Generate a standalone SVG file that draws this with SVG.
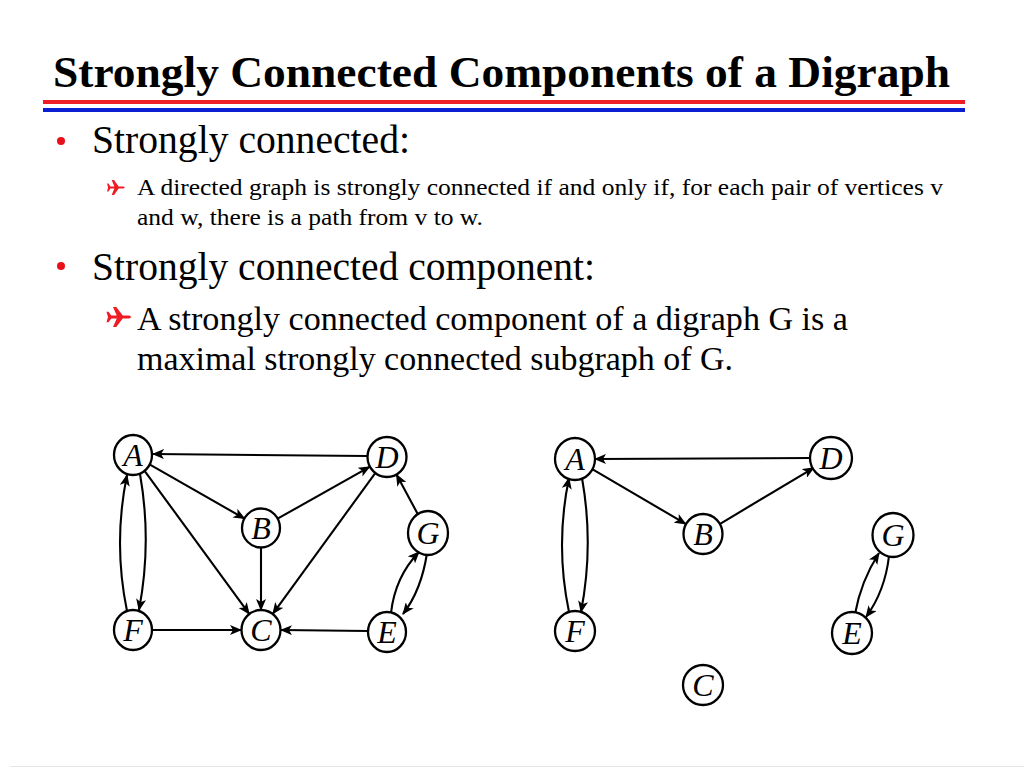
<svg xmlns="http://www.w3.org/2000/svg" width="1024" height="768" viewBox="0 0 1024 768">
<style>
.t{font-family:"Liberation Serif","Times New Roman",serif;fill:#000}
.nd{fill:#fff;stroke:#000;stroke-width:2.3}
.lb{font-family:"Liberation Serif","Times New Roman",serif;font-style:italic;font-size:32px;text-anchor:middle;fill:#000}
.e{fill:none;stroke:#000;stroke-width:2.1;marker-end:url(#ah)}
.dot{fill:#e8101a}
.pl{fill:#ee1c24}
</style>
<defs>
<marker id="ah" viewBox="0 0 12 10" refX="11" refY="5" markerWidth="12" markerHeight="10" markerUnits="userSpaceOnUse" orient="auto">
<path d="M0,0 L12,5 L0,10 L3,5 Z" fill="#000"/>
</marker>
<path id="plane" d="M1,0 L0.82,-0.14 L0.3,-0.14 L-0.22,-0.95 L-0.48,-0.95 L-0.18,-0.14 L-0.62,-0.14 L-0.84,-0.5 L-1,-0.5 L-0.88,0 L-1,0.5 L-0.84,0.5 L-0.62,0.14 L-0.18,0.14 L-0.48,0.95 L-0.22,0.95 L0.3,0.14 L0.82,0.14 Z"/>
</defs>
<rect width="1024" height="768" fill="#fff"/>
<g id="header">
<text class="t" x="53" y="87" font-size="45" font-weight="bold" textLength="897" lengthAdjust="spacingAndGlyphs">Strongly Connected Components of a Digraph</text>
<rect x="43" y="100" width="922" height="4" fill="#ee1c24"/>
<rect x="43" y="108" width="922" height="4" fill="#0a1fd0"/>
</g>
<g id="bullets">
<circle class="dot" cx="61" cy="141" r="4"/>
<text class="t" x="92" y="153" font-size="40" textLength="318" lengthAdjust="spacingAndGlyphs">Strongly connected:</text>
<use href="#plane" class="pl" transform="translate(116,187.5) scale(9,8)"/>
<text class="t" x="137" y="195" font-size="23" textLength="806" lengthAdjust="spacingAndGlyphs">A directed graph is strongly connected if and only if, for each pair of vertices v</text>
<text class="t" x="137" y="225" font-size="23" textLength="346" lengthAdjust="spacingAndGlyphs">and w, there is a path from v to w.</text>
<circle class="dot" cx="61" cy="266" r="4"/>
<text class="t" x="92" y="280" font-size="40" textLength="503" lengthAdjust="spacingAndGlyphs">Strongly connected component:</text>
<use href="#plane" class="pl" transform="translate(119,317) scale(12.5,10.5)"/>
<text class="t" x="137" y="330" font-size="34" textLength="711" lengthAdjust="spacingAndGlyphs">A strongly connected component of a digraph G is a</text>
<text class="t" x="137" y="370" font-size="34" textLength="596" lengthAdjust="spacingAndGlyphs">maximal strongly connected subgraph of G.</text>
</g>
<g id="connectors">
<path class="e" d="M367,456 L153,454"/>
<path class="e" d="M149.5,464.4 L244.5,518.6"/>
<path class="e" d="M144.2,470.3 L249.2,613.9"/>
<path class="e" d="M140,474 Q152,542 139,610"/>
<path class="e" d="M127,611 Q113,543 127,475"/>
<path class="e" d="M277.6,518.7 L369.6,466.8"/>
<path class="e" d="M261,547 L261,610"/>
<path class="e" d="M375.8,472.4 L272.8,613.8"/>
<path class="e" d="M153,630 L241,630"/>
<path class="e" d="M368,631 L281,630"/>
<path class="e" d="M418.5,515.4 L396.5,474.6"/>
<path class="e" d="M391,613 Q395,577 419,552"/>
<path class="e" d="M427,553 Q421.5,590 403,614"/>
<path class="e" d="M811,458 L595,459"/>
<path class="e" d="M591.4,468.6 L685.7,523.9"/>
<path class="e" d="M719.3,524.3 L813.8,467.8"/>
<path class="e" d="M582,478 Q594,545 581,612"/>
<path class="e" d="M569,612 Q555,545 569,478"/>
<path class="e" d="M855,614 Q861,581 879,553"/>
<path class="e" d="M889,556 Q885,591 866,617"/>
</g>
<g id="L-A"><ellipse class="nd" cx="133" cy="455" rx="19" ry="20"/><text class="lb" x="133" y="466">A</text></g>
<g id="L-B"><ellipse class="nd" cx="261" cy="528" rx="19" ry="19.5"/><text class="lb" x="261" y="539">B</text></g>
<g id="L-C"><ellipse class="nd" cx="261" cy="630" rx="19.5" ry="20"/><text class="lb" x="261" y="641">C</text></g>
<g id="L-D"><ellipse class="nd" cx="387" cy="457" rx="19.5" ry="20"/><text class="lb" x="387" y="468">D</text></g>
<g id="L-E"><ellipse class="nd" cx="387" cy="632" rx="19" ry="20"/><text class="lb" x="387" y="643">E</text></g>
<g id="L-F"><ellipse class="nd" cx="133" cy="630" rx="19" ry="20"/><text class="lb" x="133" y="641">F</text></g>
<g id="L-G"><ellipse class="nd" cx="428" cy="533" rx="20" ry="22"/><text class="lb" x="428" y="544">G</text></g>
<g id="R-A"><ellipse class="nd" cx="575" cy="459" rx="20" ry="21"/><text class="lb" x="575" y="470">A</text></g>
<g id="R-B"><ellipse class="nd" cx="703" cy="534" rx="19.5" ry="20"/><text class="lb" x="703" y="545">B</text></g>
<g id="R-C"><ellipse class="nd" cx="703" cy="685" rx="20" ry="20"/><text class="lb" x="703" y="696">C</text></g>
<g id="R-D"><ellipse class="nd" cx="831" cy="458" rx="21" ry="21"/><text class="lb" x="831" y="469">D</text></g>
<g id="R-E"><ellipse class="nd" cx="852" cy="633" rx="20" ry="21"/><text class="lb" x="852" y="644">E</text></g>
<g id="R-F"><ellipse class="nd" cx="575" cy="631" rx="20" ry="20"/><text class="lb" x="575" y="642">F</text></g>
<g id="R-G"><ellipse class="nd" cx="893" cy="535" rx="20.5" ry="22"/><text class="lb" x="893" y="546">G</text></g>
<line x1="10" y1="766.5" x2="1024" y2="766.5" stroke="#e6e6e6" stroke-width="1"/>
</svg>
